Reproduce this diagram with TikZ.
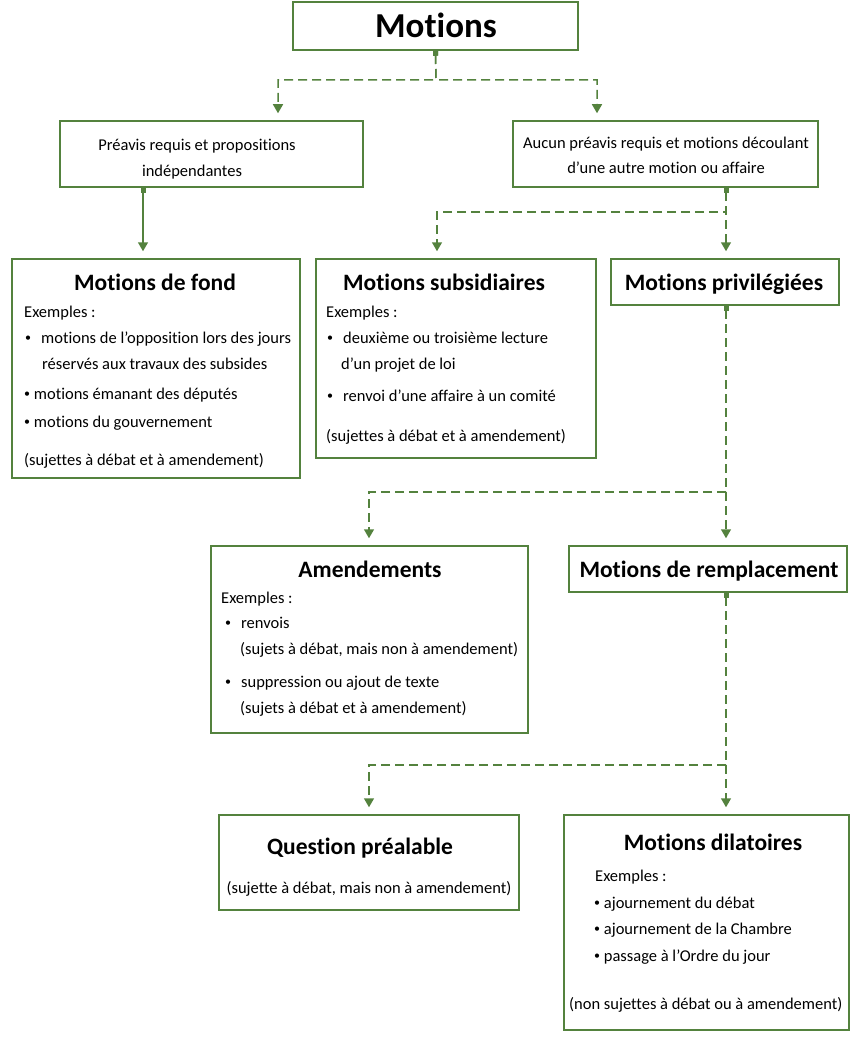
\documentclass[tikz,border=0pt]{standalone}
\usepackage{fontspec}
\setmainfont[Ligatures=NoCommon]{Carlito}
\usetikzlibrary{arrows.meta}

\definecolor{boxgreen}{RGB}{84,130,62}

\newcommand{\bul}{\raisebox{1.5pt}{\fontsize{12}{12}\selectfont•}}

\tikzset{
	box/.style={draw=boxgreen, line width=1.5pt, fill=white, inner sep=0pt},
	ttl/.style={font=\fontsize{23.5}{26}\selectfont\bfseries, inner sep=0pt, anchor=base},
	txt/.style={font=\fontsize{16.5}{19}\selectfont, inner sep=0pt, anchor=base west},
	ctxt/.style={font=\fontsize{16.5}{19}\selectfont, inner sep=0pt, anchor=base},
	link/.style={draw=boxgreen, line width=1.5pt, shorten >=7pt,
		{Square[length=5pt,width=5pt]}-{Triangle[length=9pt,width=10pt]}},
	dlink/.style={link, dash pattern=on 9pt off 5pt}
}

\begin{document}
\begin{tikzpicture}[x=1pt,y=-1pt]
\useasboundingbox (0,0) rectangle (860,1043);

% TOP

\node[box, minimum width=285, minimum height=48] (motions) at (435.5,26) {};
\node[ttl, font=\fontsize{35}{38}\selectfont\bfseries] (motionsT) at (436,38) {Motions};

% PREMIER NIVEAU

\node[box, minimum width=303, minimum height=66] (preavis) at (211.5,154) {};
\node[ctxt] (preavis1) at (197,151) {Préavis requis et propositions};
\node[ctxt] (preavis2) at (192,176) {indépendantes};

\node[box, minimum width=305, minimum height=66] (aucun) at (665.5,154) {};
\node[ctxt] (aucun1) at (666,149) {Aucun préavis requis et motions découlant};
\node[ctxt] (aucun2) at (666,174) {d’une autre motion ou affaire};

% DEUXIEME NIVEAU

\node[box, minimum width=288, minimum height=219] (fond) at (156,368.5) {};
\node[ttl] (fondT) at (155,290) {Motions de fond};
\node[txt] (fond1) at (24,317) {Exemples :};
\node[txt] (fond2) at (25,343) {\bul\hspace{10pt}motions de l’opposition lors des jours};
\node[txt] (fond3) at (42,369) {réservés aux travaux des subsides};
\node[txt] (fond4) at (24,399) {\bul\ motions émanant des députés};
\node[txt] (fond5) at (24,427) {\bul\ motions du gouvernement};
\node[txt] (fond6) at (24,465) {(sujettes à débat et à amendement)};

\node[box, minimum width=280, minimum height=199] (subsid) at (456,358.5) {};
\node[ttl] (subsidT) at (444,290) {Motions subsidiaires};
\node[txt] (subsid1) at (326,317) {Exemples :};
\node[txt] (subsid2) at (327,343) {\bul\hspace{10pt}deuxième ou troisième lecture};
\node[txt] (subsid3) at (341,369) {d’un projet de loi};
\node[txt] (subsid4) at (327,401) {\bul\hspace{10pt}renvoi d’une affaire à un comité};
\node[txt] (subsid5) at (326,441) {(sujettes à débat et à amendement)};

\node[box, minimum width=228, minimum height=46] (privil) at (725,282) {};
\node[ttl] (privilT) at (724,290) {Motions privilégiées};

% TROISIEME NIVEAU

\node[box, minimum width=317, minimum height=187] (amend) at (369.5,639.5) {};
\node[ttl] (amendT) at (370,577) {Amendements};
\node[txt] (amend1) at (221,603) {Exemples :};
\node[txt] (amend2) at (225,628) {\bul\hspace{10pt}renvois};
\node[txt] (amend3) at (240,654) {(sujets à débat, mais non à amendement)};
\node[txt] (amend4) at (225,687) {\bul\hspace{10pt}suppression ou ajout de texte};
\node[txt] (amend5) at (240,713) {(sujets à débat et à amendement)};

\node[box, minimum width=278, minimum height=46] (rempl) at (708,569) {};
\node[ttl] (remplT) at (709,577) {Motions de remplacement};

% QUATRIEME NIVEAU

\node[box, minimum width=300, minimum height=95] (quest) at (369,862.5) {};
\node[ttl] (questT) at (360,854) {Question préalable};
\node[ctxt] (quest1) at (369,893) {(sujette à débat, mais non à amendement)};

\node[box, minimum width=285, minimum height=215] (dilat) at (706.5,922.5) {};
\node[ttl] (dilatT) at (713,850) {Motions dilatoires};
\node[txt] (dilat1) at (595,881) {Exemples :};
\node[txt] (dilat2) at (594,908) {\bul\ ajournement du débat};
\node[txt] (dilat3) at (594,934) {\bul\ ajournement de la Chambre};
\node[txt] (dilat4) at (594,961) {\bul\ passage à l’Ordre du jour};
\node[txt] (dilat5) at (569,1009) {(non sujettes à débat ou à amendement)};

% LIENS

\draw[dlink] (motions.south) -- (436,80) -| (preavis.north -| 278,0);
\draw[dlink] (motions.south) -- (436,80) -| (aucun.north -| 597,0);

\draw[link] (preavis.south -| 143,0) -- (fond.north -| 143,0);

\draw[dlink] (aucun.south -| 726,0) -- (726,212) -| (subsid.north -| 437,0);
\draw[dlink] (aucun.south -| 726,0) -- (privil.north -| 726,0);

\draw[dlink] (privil.south -| 726,0) -- (726,492) -| (amend.north -| 369,0);
\draw[dlink] (privil.south -| 726,0) -- (rempl.north -| 726,0);

\draw[dlink] (rempl.south -| 726,0) -- (726,765) -| (quest.north -| 369,0);
\draw[dlink] (rempl.south -| 726,0) -- (dilat.north -| 726,0);

\end{tikzpicture}
\end{document}
